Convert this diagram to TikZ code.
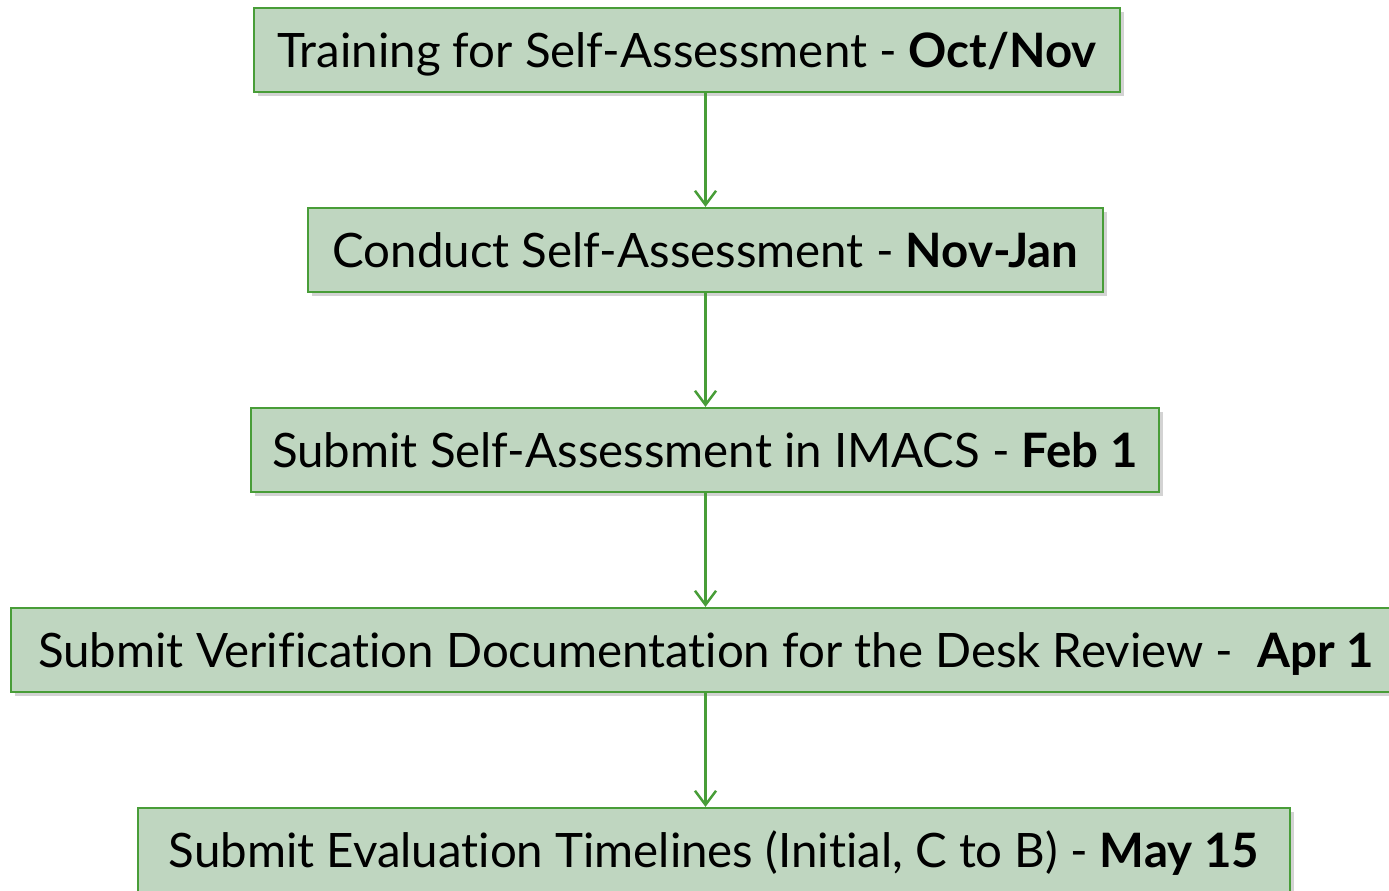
\documentclass[tikz,border=0pt]{standalone}
\usepackage{fontspec}
\setmainfont{Lato}[Ligatures=NoCommon]
\usepackage{tikz}
\usetikzlibrary{shadows}
\usetikzlibrary{arrows.meta}
\usetikzlibrary{positioning}
\usepackage{xcolor}
\definecolor{boxgreen}{RGB}{191,214,192}
\definecolor{linegreen}{RGB}{72,157,56}

\tikzset{
  stepbox/.style={draw=linegreen, line width=1.3pt, fill=boxgreen,
    minimum height=84*0.02cm, inner sep=0pt, text height=19.6pt, text depth=0pt,
    drop shadow={shadow xshift=2pt, shadow yshift=-2.5pt, opacity=.35},
    font=\fontsize{27}{32}\selectfont},
  flow/.style={draw=linegreen, line width=1.4pt,
    -{Straight Barb[length=8pt, width=12pt, line width=1.4pt]}}
}

\begin{document}
\begin{tikzpicture}[x=0.02cm, y=-0.02cm]
\useasboundingbox (0,0) rectangle (1389,891);
\node[stepbox, minimum width=866*0.02cm] (train) at (687,50) {Training for Self-Assessment - \textbf{Oct/Nov}};
\node[stepbox, minimum width=795*0.02cm] (conduct) at (705.5,250) {Conduct Self-Assessment - \textbf{Nov-Jan}};
\node[stepbox, minimum width=908*0.02cm] (submit) at (705,450) {Submit Self-Assessment in IMACS - \textbf{Feb 1}};
\node[stepbox, minimum width=1390*0.02cm] (verify) at (706,650) {Submit Verification Documentation for the Desk Review -\ \ \textbf{Apr 1}};
\node[stepbox, minimum width=1152*0.02cm] (eval) at (714,850) {Submit Evaluation Timelines (Initial, C to B) - \textbf{May 15}};
% arrows
\draw[flow] (train.south -| conduct.north) -- (conduct.north);
\draw[flow] (conduct.south) -- (submit.north -| conduct.south);
\draw[flow] (submit.south -| conduct.south) -- (verify.north -| conduct.south);
\draw[flow] (verify.south -| conduct.south) -- (eval.north -| conduct.south);
\end{tikzpicture}
\end{document}
